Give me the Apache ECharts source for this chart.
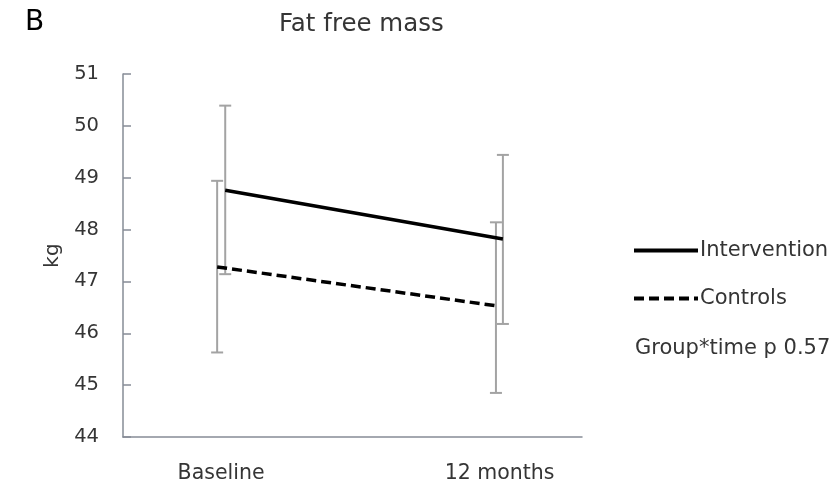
<!DOCTYPE html>
<html><head><meta charset="utf-8">
<script src="https://cdn.jsdelivr.net/npm/echarts@6/dist/echarts.min.js"></script>
<style>html,body{margin:0;padding:0;background:#fff}#c{width:838px;height:485px}</style>
</head><body><div id="c"></div>
<script>
// ---- data ----
const categories = ['Baseline', '12 months'];
const categoryPos = [1, 2];
const interventionX = [1.015, 2.012];
const controlsX = [0.986, 1.987];
const interventionMean = [48.76, 47.82];
const interventionLow = [47.14, 46.18];
const interventionHigh = [50.39, 49.44];
const controlsMean = [47.28, 46.53];
const controlsLow = [45.63, 44.85];
const controlsHigh = [48.94, 48.14];
const seriesNames = ['Intervention', 'Controls'];
const panelLabel = 'B';
const chartTitle = 'Fat free mass';
const noteText = 'Group*time p 0.57';
const yUnit = 'kg';

const FONT = 'DejaVu Sans';
const TXT = '#353535';

function errRender(params, api) {
  const x = api.value(0), lo = api.value(1), hi = api.value(2);
  const pLo = api.coord([x, lo]), pHi = api.coord([x, hi]);
  const w = 6;
  const style = { stroke: '#a3a3a3', lineWidth: 2, fill: null };
  return { type: 'group', children: [
    { type: 'line', shape: { x1: pLo[0], y1: pLo[1], x2: pHi[0], y2: pHi[1] }, style },
    { type: 'line', shape: { x1: pLo[0] - w, y1: pLo[1], x2: pLo[0] + w, y2: pLo[1] }, style },
    { type: 'line', shape: { x1: pHi[0] - w, y1: pHi[1], x2: pHi[0] + w, y2: pHi[1] }, style }
  ]};
}

const zip = (xs, ys) => xs.map((x, i) => [x, ys[i]]);
const zip3 = (xs, a, b) => xs.map((x, i) => [x, a[i], b[i]]);

const chart = echarts.init(document.getElementById('c'), null, { renderer: 'canvas' });
chart.setOption({
  animation: false,
  backgroundColor: '#fff',
  textStyle: { fontFamily: FONT },
  title: [
    { text: panelLabel, left: 20, top: 4, textStyle: { fontFamily: FONT, fontSize: 28, fontWeight: 'normal', color: '#000' } },
    { text: chartTitle, left: 274, top: 7, textStyle: { fontFamily: FONT, fontSize: 24.5, fontWeight: 'normal', color: TXT } },
    { text: noteText, left: 630, top: 333, textStyle: { fontFamily: FONT, fontSize: 21, fontWeight: 'normal', color: TXT } }
  ],
  legend: {
    orient: 'vertical', left: 632, top: 240, padding: 0,
    data: seriesNames,
    itemWidth: 64, itemHeight: 14, itemGap: 27,
    textStyle: { fontFamily: FONT, fontSize: 21, color: TXT, padding: [0, 0, 0, -3] },
    itemStyle: { opacity: 0 },
    lineStyle: { width: 4 },
    selectedMode: false
  },
  grid: { left: 123, right: 256, top: 74, bottom: 48 },
  xAxis: {
    type: 'value', min: 0.648, max: 2.296,
    axisLine: { show: true, lineStyle: { color: '#868c96', width: 1.5 } },
    axisTick: { show: false },
    splitLine: { show: false },
    axisLabel: {
      customValues: categoryPos,
      formatter: v => categories[categoryPos.indexOf(v)] || '',
      fontFamily: FONT, fontSize: 20.5, color: TXT, margin: 26
    }
  },
  yAxis: {
    type: 'value', min: 44, max: 51, interval: 1,
    name: yUnit, nameLocation: 'middle', nameGap: 60,
    nameTextStyle: { fontFamily: FONT, fontSize: 20, color: TXT },
    axisLine: { show: true, lineStyle: { color: '#868c96', width: 1.5 } },
    axisTick: { show: true, inside: true, length: 8, lineStyle: { color: '#868c96', width: 1.5 } },
    splitLine: { show: false },
    axisLabel: { fontFamily: FONT, fontSize: 19.5, color: TXT, margin: 24 }
  },
  series: [
    { type: 'custom', name: 'errI', renderItem: errRender, data: zip3(interventionX, interventionLow, interventionHigh), z: 1, silent: true },
    { type: 'custom', name: 'errC', renderItem: errRender, data: zip3(controlsX, controlsLow, controlsHigh), z: 1, silent: true },
    { type: 'line', name: seriesNames[0], data: zip(interventionX, interventionMean), symbol: 'none', z: 3,
      lineStyle: { color: '#000', width: 3.5, type: 'solid' }, itemStyle: { color: '#000' } },
    { type: 'line', name: seriesNames[1], data: zip(controlsX, controlsMean), symbol: 'none', z: 3,
      lineStyle: { color: '#000', width: 3.5, type: [10, 5] }, itemStyle: { color: '#000' } }
  ]
});
</script></body></html>
